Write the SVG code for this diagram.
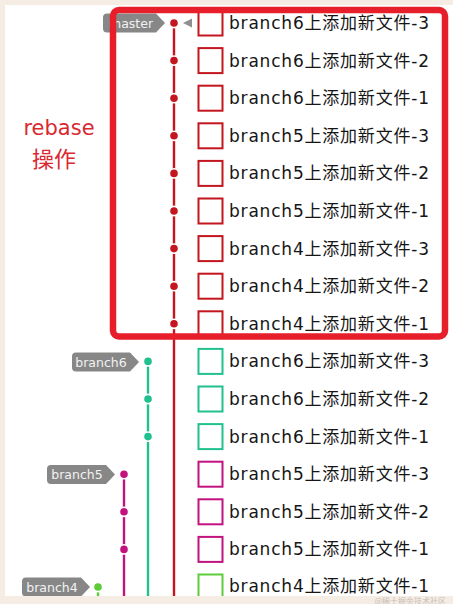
<svg xmlns="http://www.w3.org/2000/svg" width="453" height="604" viewBox="0 0 453 604">
<defs>
<style>
.t{font-family:"DejaVu Sans","Noto Sans CJK SC",sans-serif;font-size:17px;fill:#151515}
.lb{font-family:"DejaVu Sans",sans-serif;font-size:12.5px;fill:#f2f2f2}
.tag{fill:#878787}
.sq{fill:#fff;stroke-width:2}
.dot{stroke:#fff;stroke-width:1.6}
.red{stroke:#c3161e}
.grn{stroke:#20c08f}
.mag{stroke:#c2127f}
.lim{stroke:#5ccc3b}
.ln{stroke-width:2.4;fill:none}
</style>
</defs>
<rect x="0" y="0" width="453" height="604" fill="#f5ece3"/>
<rect x="5" y="5" width="448" height="591" fill="#ffffff"/>
<g id="connectors">
<line class="ln red" x1="174" y1="23" x2="174" y2="596"/>
<line class="ln grn" x1="148" y1="361.4" x2="148" y2="596"/>
<line class="ln mag" x1="124" y1="474.2" x2="124" y2="596"/>
<line class="ln lim" x1="98" y1="587" x2="98" y2="596"/>
</g>
<g id="labels">
<g id="tag-master"><path class="tag" d="M107,13.5 H156 L165,23 L156,32.5 H107 Q103,32.5 103,28.5 V17.5 Q103,13.5 107,13.5 Z"/><text class="lb" x="131" y="27.5" text-anchor="middle">master</text><path d="M183,23 L192,18.5 V27.5 Z" fill="#8f8f8f"/></g>
<g id="tag-branch6"><path class="tag" d="M76,352.5 H130 L139,362 L130,371.5 H76 Q72,371.5 72,367.5 V356.5 Q72,352.5 76,352.5 Z"/><text class="lb" x="101" y="366.5" text-anchor="middle">branch6</text></g>
<g id="tag-branch5"><path class="tag" d="M51,465 H106 L115,474.5 L106,484 H51 Q47,484 47,480 V469 Q47,465 51,465 Z"/><text class="lb" x="77" y="479" text-anchor="middle">branch5</text></g>
<g id="tag-branch4"><path class="tag" d="M26,577.5 H81 L90,587 L81,596.5 H26 Q22,596.5 22,592.5 V581.5 Q22,577.5 26,577.5 Z"/><text class="lb" x="52" y="591.5" text-anchor="middle">branch4</text></g>
</g>
<g id="c1"><circle class="dot" cx="174" cy="23" r="4.6" fill="#c3161e"/><rect class="sq red" x="198.5" y="10.5" width="24" height="25"/><text class="t" x="229" y="29" textLength="200">branch6上添加新文件-3</text></g>
<g id="c2"><circle class="dot" cx="174" cy="60.6" r="4.6" fill="#c3161e"/><rect class="sq red" x="198.5" y="48.1" width="24" height="25"/><text class="t" x="229" y="66.6" textLength="200">branch6上添加新文件-2</text></g>
<g id="c3"><circle class="dot" cx="174" cy="98.2" r="4.6" fill="#c3161e"/><rect class="sq red" x="198.5" y="85.7" width="24" height="25"/><text class="t" x="229" y="104.2" textLength="200">branch6上添加新文件-1</text></g>
<g id="c4"><circle class="dot" cx="174" cy="135.8" r="4.6" fill="#c3161e"/><rect class="sq red" x="198.5" y="123.3" width="24" height="25"/><text class="t" x="229" y="141.8" textLength="200">branch5上添加新文件-3</text></g>
<g id="c5"><circle class="dot" cx="174" cy="173.4" r="4.6" fill="#c3161e"/><rect class="sq red" x="198.5" y="160.9" width="24" height="25"/><text class="t" x="229" y="179.4" textLength="200">branch5上添加新文件-2</text></g>
<g id="c6"><circle class="dot" cx="174" cy="211" r="4.6" fill="#c3161e"/><rect class="sq red" x="198.5" y="198.5" width="24" height="25"/><text class="t" x="229" y="217" textLength="200">branch5上添加新文件-1</text></g>
<g id="c7"><circle class="dot" cx="174" cy="248.6" r="4.6" fill="#c3161e"/><rect class="sq red" x="198.5" y="236.1" width="24" height="25"/><text class="t" x="229" y="254.6" textLength="200">branch4上添加新文件-3</text></g>
<g id="c8"><circle class="dot" cx="174" cy="286.2" r="4.6" fill="#c3161e"/><rect class="sq red" x="198.5" y="273.7" width="24" height="25"/><text class="t" x="229" y="292.2" textLength="200">branch4上添加新文件-2</text></g>
<g id="c9"><circle class="dot" cx="174" cy="323.8" r="4.6" fill="#c3161e"/><rect class="sq red" x="198.5" y="311.3" width="24" height="25"/><text class="t" x="229" y="329.8" textLength="200">branch4上添加新文件-1</text></g>
<g id="c10"><circle class="dot" cx="148" cy="361.4" r="4.6" fill="#20c08f"/><rect class="sq grn" x="198.5" y="348.9" width="24" height="25"/><text class="t" x="229" y="367.4" textLength="200">branch6上添加新文件-3</text></g>
<g id="c11"><circle class="dot" cx="148" cy="399" r="4.6" fill="#20c08f"/><rect class="sq grn" x="198.5" y="386.5" width="24" height="25"/><text class="t" x="229" y="405" textLength="200">branch6上添加新文件-2</text></g>
<g id="c12"><circle class="dot" cx="148" cy="436.6" r="4.6" fill="#20c08f"/><rect class="sq grn" x="198.5" y="424.1" width="24" height="25"/><text class="t" x="229" y="442.6" textLength="200">branch6上添加新文件-1</text></g>
<g id="c13"><circle class="dot" cx="124" cy="474.2" r="4.6" fill="#c2127f"/><rect class="sq mag" x="198.5" y="461.7" width="24" height="25"/><text class="t" x="229" y="480.2" textLength="200">branch5上添加新文件-3</text></g>
<g id="c14"><circle class="dot" cx="124" cy="511.8" r="4.6" fill="#c2127f"/><rect class="sq mag" x="198.5" y="499.3" width="24" height="25"/><text class="t" x="229" y="517.8" textLength="200">branch5上添加新文件-2</text></g>
<g id="c15"><circle class="dot" cx="124" cy="549.4" r="4.6" fill="#c2127f"/><rect class="sq mag" x="198.5" y="536.9" width="24" height="25"/><text class="t" x="229" y="555.4" textLength="200">branch5上添加新文件-1</text></g>
<g id="c16"><circle class="dot" cx="98" cy="587" r="4.6" fill="#5ccc3b"/><rect class="sq lim" x="198.5" y="574.5" width="24" height="25"/><text class="t" x="229" y="592" textLength="200">branch4上添加新文件-1</text></g>
<rect x="0" y="596" width="453" height="8" fill="#f5ece3"/>
<g id="rebase-box">
<rect x="113" y="10" width="332" height="326.5" rx="6" fill="none" stroke="#e61f2a" stroke-width="6.5"/>
<text x="59" y="135" text-anchor="middle" style="font-family:'DejaVu Sans',sans-serif;font-size:21px;fill:#d92830">rebase</text>
<text x="54" y="167" text-anchor="middle" style="font-family:'Noto Sans CJK SC',sans-serif;font-size:22px;fill:#d92830">操作</text>
</g>
<text x="446" y="603.5" text-anchor="end" style="font-family:'Noto Sans CJK SC',sans-serif;font-size:8px;fill:#c8c0b8">@稀土掘金技术社区</text>
</svg>
